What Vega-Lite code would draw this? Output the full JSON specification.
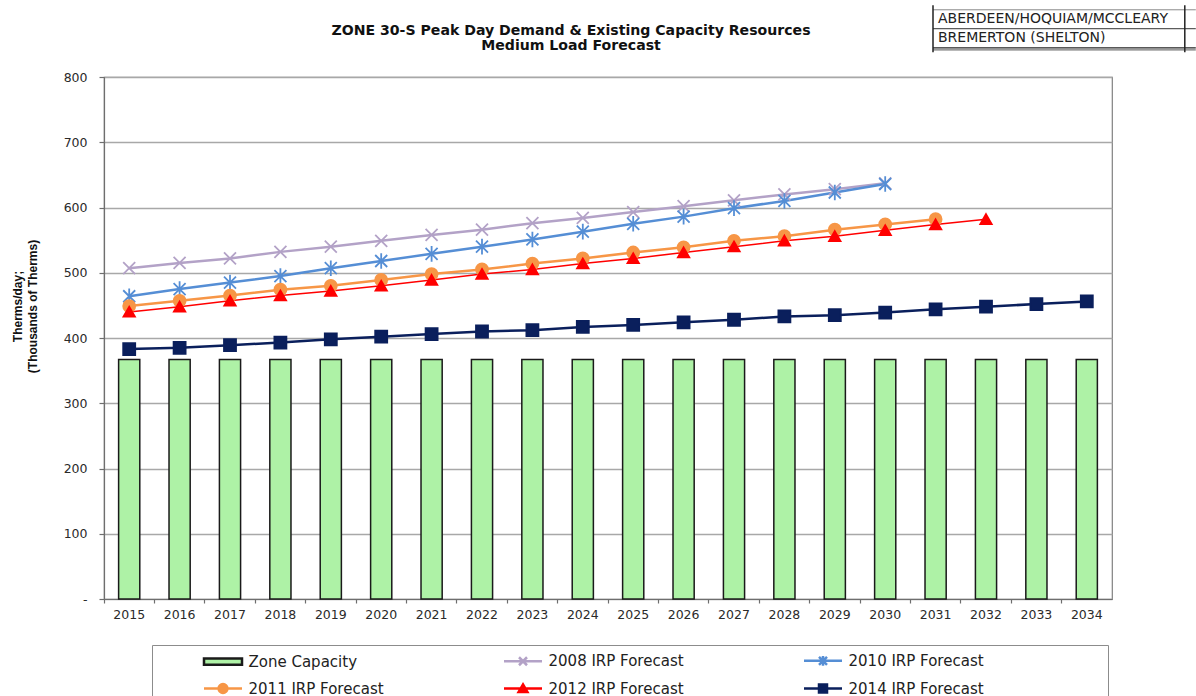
{
  "$schema": "https://vega.github.io/schema/vega-lite/v6.json",
  "width": 1008,
  "height": 522,
  "autosize": {"type": "none"},
  "padding": {"left": 104, "top": 77, "right": 84, "bottom": 97},
  "background": "white",
  "title": {
    "text": ["ZONE 30-S Peak Day Demand  & Existing Capacity Resources", "Medium Load Forecast"],
    "font": "DejaVu Sans",
    "fontSize": 14.1,
    "fontWeight": "bold",
    "color": "#111",
    "anchor": "middle",
    "frame": "group",
    "dx": -37,
    "offset": 0,
    "dy": 49,
    "lineHeight": 15
  },
  "datasets": {
    "demand": [
      {"year": "2015", "series": "Zone Capacity", "value": 367},
      {"year": "2016", "series": "Zone Capacity", "value": 367},
      {"year": "2017", "series": "Zone Capacity", "value": 367},
      {"year": "2018", "series": "Zone Capacity", "value": 367},
      {"year": "2019", "series": "Zone Capacity", "value": 367},
      {"year": "2020", "series": "Zone Capacity", "value": 367},
      {"year": "2021", "series": "Zone Capacity", "value": 367},
      {"year": "2022", "series": "Zone Capacity", "value": 367},
      {"year": "2023", "series": "Zone Capacity", "value": 367},
      {"year": "2024", "series": "Zone Capacity", "value": 367},
      {"year": "2025", "series": "Zone Capacity", "value": 367},
      {"year": "2026", "series": "Zone Capacity", "value": 367},
      {"year": "2027", "series": "Zone Capacity", "value": 367},
      {"year": "2028", "series": "Zone Capacity", "value": 367},
      {"year": "2029", "series": "Zone Capacity", "value": 367},
      {"year": "2030", "series": "Zone Capacity", "value": 367},
      {"year": "2031", "series": "Zone Capacity", "value": 367},
      {"year": "2032", "series": "Zone Capacity", "value": 367},
      {"year": "2033", "series": "Zone Capacity", "value": 367},
      {"year": "2034", "series": "Zone Capacity", "value": 367},

      {"year": "2015", "series": "2008 IRP Forecast", "value": 507},
      {"year": "2016", "series": "2008 IRP Forecast", "value": 515},
      {"year": "2017", "series": "2008 IRP Forecast", "value": 522},
      {"year": "2018", "series": "2008 IRP Forecast", "value": 532},
      {"year": "2019", "series": "2008 IRP Forecast", "value": 540},
      {"year": "2020", "series": "2008 IRP Forecast", "value": 549},
      {"year": "2021", "series": "2008 IRP Forecast", "value": 558},
      {"year": "2022", "series": "2008 IRP Forecast", "value": 566},
      {"year": "2023", "series": "2008 IRP Forecast", "value": 576},
      {"year": "2024", "series": "2008 IRP Forecast", "value": 584},
      {"year": "2025", "series": "2008 IRP Forecast", "value": 593},
      {"year": "2026", "series": "2008 IRP Forecast", "value": 602},
      {"year": "2027", "series": "2008 IRP Forecast", "value": 611},
      {"year": "2028", "series": "2008 IRP Forecast", "value": 620},
      {"year": "2029", "series": "2008 IRP Forecast", "value": 628},
      {"year": "2030", "series": "2008 IRP Forecast", "value": 637},

      {"year": "2015", "series": "2010 IRP Forecast", "value": 464},
      {"year": "2016", "series": "2010 IRP Forecast", "value": 475},
      {"year": "2017", "series": "2010 IRP Forecast", "value": 485},
      {"year": "2018", "series": "2010 IRP Forecast", "value": 495},
      {"year": "2019", "series": "2010 IRP Forecast", "value": 507},
      {"year": "2020", "series": "2010 IRP Forecast", "value": 518},
      {"year": "2021", "series": "2010 IRP Forecast", "value": 529},
      {"year": "2022", "series": "2010 IRP Forecast", "value": 540},
      {"year": "2023", "series": "2010 IRP Forecast", "value": 551},
      {"year": "2024", "series": "2010 IRP Forecast", "value": 563},
      {"year": "2025", "series": "2010 IRP Forecast", "value": 575},
      {"year": "2026", "series": "2010 IRP Forecast", "value": 586},
      {"year": "2027", "series": "2010 IRP Forecast", "value": 599},
      {"year": "2028", "series": "2010 IRP Forecast", "value": 610},
      {"year": "2029", "series": "2010 IRP Forecast", "value": 623},
      {"year": "2030", "series": "2010 IRP Forecast", "value": 636},

      {"year": "2015", "series": "2011 IRP Forecast", "value": 449},
      {"year": "2016", "series": "2011 IRP Forecast", "value": 457},
      {"year": "2017", "series": "2011 IRP Forecast", "value": 465},
      {"year": "2018", "series": "2011 IRP Forecast", "value": 474},
      {"year": "2019", "series": "2011 IRP Forecast", "value": 480},
      {"year": "2020", "series": "2011 IRP Forecast", "value": 489},
      {"year": "2021", "series": "2011 IRP Forecast", "value": 498},
      {"year": "2022", "series": "2011 IRP Forecast", "value": 505},
      {"year": "2023", "series": "2011 IRP Forecast", "value": 514},
      {"year": "2024", "series": "2011 IRP Forecast", "value": 522},
      {"year": "2025", "series": "2011 IRP Forecast", "value": 531},
      {"year": "2026", "series": "2011 IRP Forecast", "value": 539},
      {"year": "2027", "series": "2011 IRP Forecast", "value": 549},
      {"year": "2028", "series": "2011 IRP Forecast", "value": 556},
      {"year": "2029", "series": "2011 IRP Forecast", "value": 566},
      {"year": "2030", "series": "2011 IRP Forecast", "value": 574},
      {"year": "2031", "series": "2011 IRP Forecast", "value": 582},

      {"year": "2015", "series": "2012 IRP Forecast", "value": 440},
      {"year": "2016", "series": "2012 IRP Forecast", "value": 448},
      {"year": "2017", "series": "2012 IRP Forecast", "value": 457},
      {"year": "2018", "series": "2012 IRP Forecast", "value": 465},
      {"year": "2019", "series": "2012 IRP Forecast", "value": 472},
      {"year": "2020", "series": "2012 IRP Forecast", "value": 480},
      {"year": "2021", "series": "2012 IRP Forecast", "value": 489},
      {"year": "2022", "series": "2012 IRP Forecast", "value": 498},
      {"year": "2023", "series": "2012 IRP Forecast", "value": 505},
      {"year": "2024", "series": "2012 IRP Forecast", "value": 514},
      {"year": "2025", "series": "2012 IRP Forecast", "value": 522},
      {"year": "2026", "series": "2012 IRP Forecast", "value": 531},
      {"year": "2027", "series": "2012 IRP Forecast", "value": 540},
      {"year": "2028", "series": "2012 IRP Forecast", "value": 549},
      {"year": "2029", "series": "2012 IRP Forecast", "value": 556},
      {"year": "2030", "series": "2012 IRP Forecast", "value": 565},
      {"year": "2031", "series": "2012 IRP Forecast", "value": 574},
      {"year": "2032", "series": "2012 IRP Forecast", "value": 582},

      {"year": "2015", "series": "2014 IRP Forecast", "value": 383},
      {"year": "2016", "series": "2014 IRP Forecast", "value": 385},
      {"year": "2017", "series": "2014 IRP Forecast", "value": 389},
      {"year": "2018", "series": "2014 IRP Forecast", "value": 393},
      {"year": "2019", "series": "2014 IRP Forecast", "value": 398},
      {"year": "2020", "series": "2014 IRP Forecast", "value": 402},
      {"year": "2021", "series": "2014 IRP Forecast", "value": 406},
      {"year": "2022", "series": "2014 IRP Forecast", "value": 410},
      {"year": "2023", "series": "2014 IRP Forecast", "value": 412},
      {"year": "2024", "series": "2014 IRP Forecast", "value": 417},
      {"year": "2025", "series": "2014 IRP Forecast", "value": 420},
      {"year": "2026", "series": "2014 IRP Forecast", "value": 424},
      {"year": "2027", "series": "2014 IRP Forecast", "value": 428},
      {"year": "2028", "series": "2014 IRP Forecast", "value": 433},
      {"year": "2029", "series": "2014 IRP Forecast", "value": 435},
      {"year": "2030", "series": "2014 IRP Forecast", "value": 439},
      {"year": "2031", "series": "2014 IRP Forecast", "value": 444},
      {"year": "2032", "series": "2014 IRP Forecast", "value": 448},
      {"year": "2033", "series": "2014 IRP Forecast", "value": 452},
      {"year": "2034", "series": "2014 IRP Forecast", "value": 456}
    ]
  },
  "data": {"name": "demand"},
  "layer": [
    {
      "transform": [{"filter": "datum.series === 'Zone Capacity'"}],
      "mark": {"type": "bar", "width": {"band": 0.42}, "fill": "#aef2a6", "stroke": "#1a1a1a", "strokeWidth": 1.5},
      "encoding": {
        "x": {
          "field": "year", "type": "ordinal",
          "scale": {"paddingInner": 0, "paddingOuter": 0},
          "axis": {"title": null, "bandPosition": 0, "labelAngle": 0, "tickSize": 4, "labelPadding": 5, "grid": false}
        },
        "y": {
          "field": "value", "type": "quantitative",
          "scale": {"domain": [0, 800], "nice": false},
          "axis": {
            "values": [0, 100, 200, 300, 400, 500, 600, 700, 800],
            "labelExpr": "datum.value === 0 ? '-' : datum.label",
            "grid": true,
            "tickSize": 5,
            "labelPadding": 12,
            "title": ["Therms/day;", "(Thousands of Therms)"],
            "titleFont": "Liberation Sans",
            "titleFontSize": 12,
            "titleFontWeight": "bold",
            "titleColor": "#111",
            "titleLineHeight": 15,
            "titleAngle": -90,
            "titleAlign": "center",
            "titleBaseline": "bottom",
            "titleX": -80,
            "titleY": 229
          }
        }
      }
    },
    {
      "transform": [{"filter": "datum.series !== 'Zone Capacity' && datum.series !== '2012 IRP Forecast'"}],
      "mark": {"type": "line", "strokeWidth": 2.5},
      "encoding": {
        "x": {"field": "year", "type": "ordinal"},
        "y": {"field": "value", "type": "quantitative"},
        "color": {
          "field": "series", "type": "nominal", "legend": null,
          "scale": {
            "domain": ["2008 IRP Forecast", "2010 IRP Forecast", "2011 IRP Forecast", "2012 IRP Forecast", "2014 IRP Forecast"],
            "range": ["#b3a2c7", "#558ed5", "#f79646", "#ff0000", "#0a1f5c"]
          }
        }
      }
    },
    {
      "transform": [{"filter": "datum.series === '2012 IRP Forecast'"}],
      "mark": {"type": "line", "strokeWidth": 1.5},
      "encoding": {
        "x": {"field": "year", "type": "ordinal"},
        "y": {"field": "value", "type": "quantitative"},
        "color": {
          "field": "series", "type": "nominal", "legend": null,
          "scale": {
            "domain": ["2008 IRP Forecast", "2010 IRP Forecast", "2011 IRP Forecast", "2012 IRP Forecast", "2014 IRP Forecast"],
            "range": ["#b3a2c7", "#558ed5", "#f79646", "#ff0000", "#0a1f5c"]
          }
        }
      }
    },
    {
      "transform": [{"filter": "datum.series !== 'Zone Capacity'"}],
      "mark": {"type": "point", "filled": true, "opacity": 1, "size": 144, "strokeWidth": 1.8},
      "encoding": {
        "x": {"field": "year", "type": "ordinal"},
        "y": {"field": "value", "type": "quantitative"},
        "color": {
          "field": "series", "type": "nominal", "legend": null,
          "scale": {
            "domain": ["2008 IRP Forecast", "2010 IRP Forecast", "2011 IRP Forecast", "2012 IRP Forecast", "2014 IRP Forecast"],
            "range": ["#b3a2c7", "#558ed5", "#f79646", "#ff0000", "#0a1f5c"]
          }
        },
        "stroke": {
          "field": "series", "type": "nominal", "legend": null,
          "scale": {
            "domain": ["2008 IRP Forecast", "2010 IRP Forecast", "2011 IRP Forecast", "2012 IRP Forecast", "2014 IRP Forecast"],
            "range": ["#b3a2c7", "#558ed5", "#f79646", "#ff0000", "#0a1f5c"]
          }
        },
        "shape": {
          "field": "series", "type": "nominal", "legend": null,
          "scale": {
            "domain": ["2008 IRP Forecast", "2010 IRP Forecast", "2011 IRP Forecast", "2012 IRP Forecast", "2014 IRP Forecast"],
            "range": [
              "M-1,-1L1,1M-1,1L1,-1",
              "M-1,-1L1,1M-1,1L1,-1M0,-1.3V1.3",
              "M-1,0A1,1 0 1,1 1,0A1,1 0 1,1 -1,0Z",
              "M0,-0.85L0.95,0.8H-0.95Z",
              "M-1,-1H1V1H-1Z"
            ]
          }
        }
      }
    },
    {
      "transform": [{"filter": "false"}],
      "mark": {"type": "point", "filled": true, "opacity": 1, "strokeWidth": 2.5},
      "encoding": {
        "color": {
          "field": "series", "type": "nominal",
          "scale": {
            "domain": ["Zone Capacity", "2008 IRP Forecast", "2010 IRP Forecast", "2011 IRP Forecast", "2012 IRP Forecast", "2014 IRP Forecast"],
            "range": ["#aef2a6", "#b3a2c7", "#558ed5", "#f79646", "#ff0000", "#0a1f5c"]
          },
          "legend": {"title": "\u00a0", "titleOrient": "right", "titlePadding": 116, "orient": "none", "legendX": 48, "legendY": 568, "columns": 3, "direction": "horizontal"}
        },
        "stroke": {
          "field": "series", "type": "nominal",
          "scale": {
            "domain": ["Zone Capacity", "2008 IRP Forecast", "2010 IRP Forecast", "2011 IRP Forecast", "2012 IRP Forecast", "2014 IRP Forecast"],
            "range": ["#1a1a1a", "#b3a2c7", "#558ed5", "#f79646", "#ff0000", "#0a1f5c"]
          },
          "legend": {"title": "\u00a0", "titleOrient": "right", "titlePadding": 116, "orient": "none", "legendX": 48, "legendY": 568, "columns": 3, "direction": "horizontal"}
        },
        "shape": {
          "field": "series", "type": "nominal",
          "scale": {
            "domain": ["Zone Capacity", "2008 IRP Forecast", "2010 IRP Forecast", "2011 IRP Forecast", "2012 IRP Forecast", "2014 IRP Forecast"],
            "range": [
              "M-4.75,-0.8H4.75V0.8H-4.75Z",
              "M-4.75,0H4.75M-1,-1L1,1M-1,1L1,-1",
              "M-4.75,0H4.75M-1,-1L1,1M-1,1L1,-1M0,-1.2V1.2",
              "M-4.75,0H4.75M-1.1,0A1.1,1.1 0 1,1 1.1,0A1.1,1.1 0 1,1 -1.1,0Z",
              "M-4.75,0H4.75M0,-1L1.1,0.9H-1.1Z",
              "M-4.75,0H4.75M-1,-1H1V1H-1Z"
            ]
          },
          "legend": {"title": "\u00a0", "titleOrient": "right", "titlePadding": 116, "orient": "none", "legendX": 48, "legendY": 568, "columns": 3, "direction": "horizontal"}
        }
      }
    },
    {
      "data": {"values": [{"label": "ABERDEEN/HOQUIAM/MCCLEARY"}]},
      "mark": {"type": "text", "align": "left", "baseline": "middle", "dx": 2.4, "font": "DejaVu Sans", "fontSize": 14, "color": "#222"},
      "encoding": {
        "x": {"datum": "2031", "type": "ordinal"},
        "y": {"datum": 889, "type": "quantitative", "scale": {"domain": [0, 800], "nice": false}},
        "text": {"field": "label"}
      }
    },
    {
      "data": {"values": [{"label": "BREMERTON (SHELTON)"}]},
      "mark": {"type": "text", "align": "left", "baseline": "middle", "dx": 2.4, "font": "DejaVu Sans", "fontSize": 14, "color": "#222"},
      "encoding": {
        "x": {"datum": "2031", "type": "ordinal"},
        "y": {"datum": 860, "type": "quantitative", "scale": {"domain": [0, 800], "nice": false}},
        "text": {"field": "label"}
      }
    },
    {
      "data": {"values": [{"edge": "top"}]},
      "mark": {"type": "rule", "color": "#8a8a8a", "strokeWidth": 1, "xOffset": -2.6, "x2Offset": 109},
      "encoding": {
        "x": {"datum": "2031", "type": "ordinal"},
        "x2": {"datum": "2034"},
        "y": {"datum": 903, "type": "quantitative", "scale": {"domain": [0, 800], "nice": false}}
      }
    },
    {
      "data": {"values": [{"edge": "middle"}]},
      "mark": {"type": "rule", "color": "#333", "strokeWidth": 1, "xOffset": -2.6, "x2Offset": 109},
      "encoding": {
        "x": {"datum": "2031", "type": "ordinal"},
        "x2": {"datum": "2034"},
        "y": {"datum": 874, "type": "quantitative", "scale": {"domain": [0, 800], "nice": false}}
      }
    },
    {
      "data": {"values": [{"edge": "bottom"}]},
      "mark": {"type": "rule", "color": "#222", "strokeWidth": 1.2, "xOffset": -2.6, "x2Offset": 109},
      "encoding": {
        "x": {"datum": "2031", "type": "ordinal"},
        "x2": {"datum": "2034"},
        "y": {"datum": 844.5, "type": "quantitative", "scale": {"domain": [0, 800], "nice": false}}
      }
    },
    {
      "data": {"values": [{"edge": "bottom2"}]},
      "mark": {"type": "rule", "color": "#555", "strokeWidth": 1, "xOffset": -2.6, "x2Offset": 109},
      "encoding": {
        "x": {"datum": "2031", "type": "ordinal"},
        "x2": {"datum": "2034"},
        "y": {"datum": 841.5, "type": "quantitative", "scale": {"domain": [0, 800], "nice": false}}
      }
    },
    {
      "data": {"values": [{"edge": "left"}]},
      "mark": {"type": "rule", "color": "#222", "strokeWidth": 1.5, "xOffset": -2.6},
      "encoding": {
        "x": {"datum": "2031", "type": "ordinal"},
        "y": {"datum": 910, "type": "quantitative", "scale": {"domain": [0, 800], "nice": false}},
        "y2": {"datum": 838}
      }
    },
    {
      "data": {"values": [{"edge": "right"}]},
      "mark": {"type": "rule", "color": "#222", "strokeWidth": 1.5, "xOffset": 98},
      "encoding": {
        "x": {"datum": "2034", "type": "ordinal"},
        "y": {"datum": 910, "type": "quantitative", "scale": {"domain": [0, 800], "nice": false}},
        "y2": {"datum": 838}
      }
    }
  ],
  "resolve": {"scale": {"color": "independent", "stroke": "independent", "shape": "independent"}},
  "config": {
    "view": {"stroke": "#808080", "strokeWidth": 1.2},
    "axis": {
      "labelFont": "DejaVu Sans",
      "labelFontSize": 12.5,
      "labelColor": "#2a2a2a",
      "domainColor": "#6e6e6e",
      "domainWidth": 1.2,
      "tickColor": "#6e6e6e",
      "tickWidth": 1.2,
      "gridColor": "#a8a8a8",
      "gridWidth": 1.5
    },
    "legend": {
      "padding": 8,
      "strokeColor": "#8c8c8c",
      "fillColor": "white",
      "symbolSize": 64,
      "symbolStrokeWidth": 2.5,
      "symbolOffset": 55.5,
      "labelOffset": 18,
      "columnPadding": 76,
      "rowPadding": 8,
      "labelFont": "DejaVu Sans",
      "labelFontSize": 15,
      "labelColor": "#222",
      "gridAlign": "all",
      "labelLimit": 300
    }
  }
}
